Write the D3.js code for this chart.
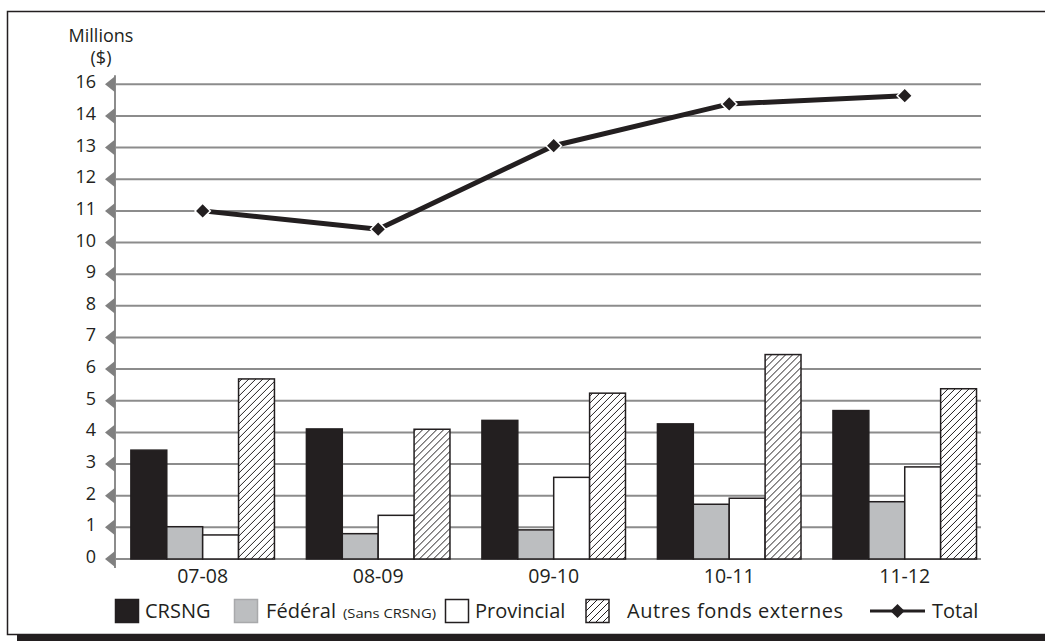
<!DOCTYPE html>
<html>
<head>
<meta charset="utf-8">
<script src="https://cdn.jsdelivr.net/npm/d3@7"></script>
<style>
  html, body { margin: 0; padding: 0; background: #fff; }
  svg { display: block; font-family: "Open Sans", "Noto Sans", sans-serif; }
</style>
</head>
<body>
<svg id="chart" width="1045" height="641"></svg>
<script>
// Financement par exercice (millions $)
const categories = ["07-08", "08-09", "09-10", "10-11", "11-12"];
const crsng      = [3.44, 4.11, 4.38, 4.27, 4.69];
const federal    = [1.02, 0.80, 0.92, 1.73, 1.81];
const provincial = [0.76, 1.38, 2.58, 1.92, 2.91];
const autres     = [5.69, 4.10, 5.24, 6.46, 5.38];
const total      = [11.0, 10.42, 13.06, 14.38, 14.64];

const yTickValues = [0, 1, 2, 3, 4, 5, 6, 7, 8, 9, 10, 11, 12, 13, 14, 15];
const yTickLabels = ["0", "1", "2", "3", "4", "5", "6", "7", "8", "9", "10", "11", "12", "13", "14", "16"];

const seriesKeys = ["crsng", "federal", "provincial", "autres"];
const seriesData = { crsng, federal, provincial, autres };

const svg = d3.select("#chart");
const defs = svg.append("defs");

// hatch for "Autres fonds externes"
const pat = defs.append("pattern")
  .attr("id", "hatch")
  .attr("patternUnits", "userSpaceOnUse")
  .attr("width", 7).attr("height", 7);
pat.append("rect").attr("width", 7).attr("height", 7).attr("fill", "#fff");
pat.append("path")
  .attr("d", "M-1,8 L8,-1 M-1,1 L1,-1 M6,8 L8,6")
  .attr("stroke", "#231f20").attr("stroke-width", 1);

const fills = { crsng: "#231f20", federal: "#bcbec0", provincial: "#ffffff", autres: "url(#hatch)" };
const ink = "#231f20";

// frame with drop shadow along the bottom
svg.append("rect").attr("x", 17).attr("y", 633).attr("width", 1040).attr("height", 10).attr("fill", ink);
svg.append("rect").attr("x", 7.5).attr("y", 11.5).attr("width", 1060).attr("height", 623)
  .attr("fill", "#fff").attr("stroke", ink).attr("stroke-width", 1.5);

const plotLeft = 115, plotRight = 981;
const y = d3.scaleLinear().domain([0, 15]).range([559, 84.3]);

const x0 = d3.scaleBand().domain(categories).range([plotLeft, plotRight])
  .paddingInner(0.182).paddingOuter(0.058).align(0.78);
const x1 = d3.scaleBand().domain(seriesKeys).range([0, x0.bandwidth()]);

// gridlines
svg.append("g").selectAll("line").data(yTickValues).join("line")
  .attr("x1", plotLeft).attr("x2", plotRight)
  .attr("y1", d => y(d)).attr("y2", d => y(d))
  .attr("stroke", "#8c8c8c").attr("stroke-width", 2);

// vertical axis with arrow-shaped ticks
svg.append("line")
  .attr("x1", plotLeft).attr("x2", plotLeft)
  .attr("y1", y(15) - 9).attr("y2", y(0) + 9)
  .attr("stroke", "#8c8c8c").attr("stroke-width", 2);
svg.append("g").selectAll("path").data(yTickValues).join("path")
  .attr("d", d => `M${plotLeft - 10},${y(d)} L${plotLeft},${y(d) - 8} L${plotLeft},${y(d) + 8} Z`)
  .attr("fill", "#808080");
svg.append("g").selectAll("text").data(yTickValues).join("text")
  .attr("x", 96).attr("y", d => y(d) + 4)
  .attr("text-anchor", "end")
  .attr("font-size", 18).attr("fill", ink)
  .text((d, i) => yTickLabels[i]);

svg.append("text").attr("x", 101).attr("y", 42).attr("text-anchor", "middle")
  .attr("font-size", 18).attr("fill", ink).text("Millions");
svg.append("text").attr("x", 101).attr("y", 64).attr("text-anchor", "middle")
  .attr("font-size", 18).attr("fill", ink).text("($)");

// bars
const groups = svg.append("g").selectAll("g").data(categories).join("g")
  .attr("transform", d => `translate(${x0(d)},0)`);
groups.selectAll("rect")
  .data((c, i) => seriesKeys.map(k => ({ key: k, value: seriesData[k][i] })))
  .join("rect")
  .attr("x", d => x1(d.key))
  .attr("y", d => y(d.value))
  .attr("width", x1.bandwidth())
  .attr("height", d => y(0) - y(d.value))
  .attr("fill", d => fills[d.key])
  .attr("stroke", ink).attr("stroke-width", 1.5);

// category labels
svg.append("g").selectAll("text").data(categories).join("text")
  .attr("x", d => x0(d) + x0.bandwidth() / 2).attr("y", 583)
  .attr("text-anchor", "middle").attr("font-size", 19.5).attr("fill", ink)
  .text(d => d);

// total line
const cx = c => x0(c) + x0.bandwidth() / 2;
const line = d3.line().x((d, i) => cx(categories[i])).y(d => y(d));
svg.append("path").datum(total).attr("d", line)
  .attr("fill", "none").attr("stroke", ink).attr("stroke-width", 5)
  .attr("stroke-linejoin", "round");
const diamond = d3.symbol(d3.symbolSquare, 118);
svg.append("g").selectAll("path").data(total).join("path")
  .attr("d", diamond)
  .attr("transform", (d, i) => `translate(${cx(categories[i])},${y(d)}) rotate(45)`)
  .attr("fill", ink).attr("stroke", "#fff").attr("stroke-width", 1.5);

// legend
const ly = 611;
const lg = svg.append("g").attr("font-size", 20).attr("fill", ink);
function swatch(x, fill, stroke) {
  lg.append("rect").attr("x", x).attr("y", ly - 11.5).attr("width", 23).attr("height", 23)
    .attr("fill", fill).attr("stroke", stroke).attr("stroke-width", 1.5);
}
swatch(115.5, fills.crsng, ink);
lg.append("text").attr("x", 145).attr("y", ly + 7).text("CRSNG");
swatch(234.5, fills.federal, "#a8a9ab");
lg.append("text").attr("x", 266).attr("y", ly + 7)
  .attr("textLength", 70).attr("lengthAdjust", "spacing").text("Fédéral");
lg.append("text").attr("x", 343).attr("y", ly + 7).attr("font-size", 13.5)
  .attr("textLength", 93).attr("lengthAdjust", "spacingAndGlyphs").text("(Sans CRSNG)");
swatch(445.5, fills.provincial, ink);
lg.append("text").attr("x", 475).attr("y", ly + 7).text("Provincial");
swatch(586, fills.autres, ink);
lg.append("text").attr("x", 627).attr("y", ly + 7)
  .attr("textLength", 216).attr("lengthAdjust", "spacing").text("Autres fonds externes");
lg.append("line").attr("x1", 870).attr("x2", 925).attr("y1", ly).attr("y2", ly)
  .attr("stroke", ink).attr("stroke-width", 3);
lg.append("path").attr("d", d3.symbol(d3.symbolSquare, 100))
  .attr("transform", `translate(897.5,${ly}) rotate(45)`).attr("fill", ink);
lg.append("text").attr("x", 932).attr("y", ly + 7).text("Total");
</script>
</body>
</html>
